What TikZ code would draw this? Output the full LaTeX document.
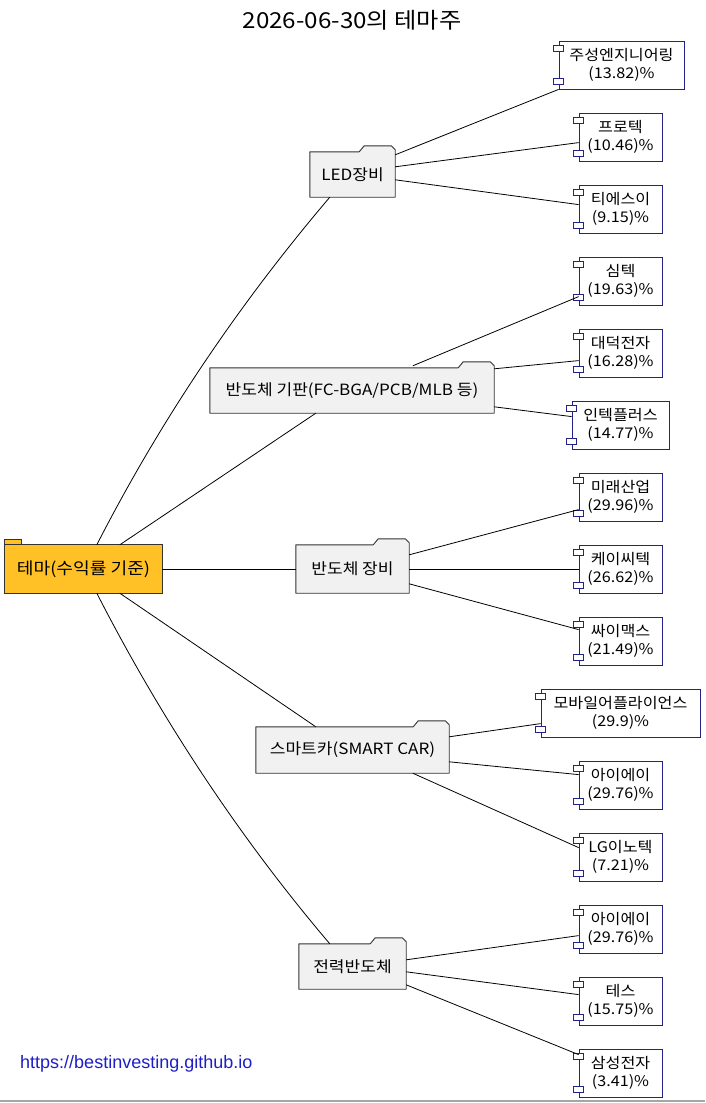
\documentclass[tikz,border=0pt]{standalone}
\usepackage{fontspec}
\setmainfont[FakeStretch=1.1]{Noto Sans CJK KR}
\newfontfamily\urlfont{Liberation Sans}
\usetikzlibrary{calc}
\pgfdeclarelayer{background}
\pgfsetlayers{background,main}
\definecolor{rootfill}{RGB}{255,193,37}
\definecolor{folderfill}{RGB}{241,241,241}
\definecolor{folderline}{RGB}{51,51,51}
\definecolor{compline}{RGB}{34,34,136}
\definecolor{urlblue}{RGB}{30,30,200}
\newcommand\folderpath[1]{%
  \draw[folderdraw]
  (#1.south west) -- (#1.north west) -- ($(#1.north east)+(-36,0)$) -- ++(5,-6)
  -- ($(#1.north east)+(-4,-6)$) -- ($(#1.north east)+(0,-2)$) -- (#1.south east) -- cycle;}
\newcommand\compports[1]{%
  \draw[portdraw] ($(#1.north west)+(-5,5)$) rectangle ++(10,6);
  \draw[portdraw] ($(#1.south west)+(-5,-11)$) rectangle ++(10,6);}
\begin{document}
\begin{tikzpicture}[x=1pt,y=-1pt,
  folderdraw/.style={draw=folderline, fill=folderfill, line width=0.9pt, line join=round},
  fold/.style={inner sep=0pt, font=\fontsize{15.5}{18}\selectfont},
  comp/.style={draw=compline, fill=white, line width=0.8pt, inner sep=0pt, minimum height=48,
    minimum width=83, align=center, font=\fontsize{14.7}{17.5}\selectfont},
  portdraw/.style={draw=compline, fill=white, line width=0.8pt},
  edge/.style={draw=black, line width=0.8pt}]
\useasboundingbox (0,0) rectangle (705,1103);
\draw[gray!70, line width=1.5pt] (0,1101) -- (705,1101);

\node[font=\fontsize{22}{25}\selectfont] (title) at (352,20) {2026-06-30의 테마주};

% root and folders
\node[fold, font=\fontsize{16.5}{19}\selectfont, minimum width=157, minimum height=48] (root) at (83.5,569) {테마(수익률 기준)};
\node[fold, minimum width=85, minimum height=45] (led) at (352.5,174.5) {LED장비};
\node[fold, minimum width=284, minimum height=45] (sub) at (352,390.5) {반도체 기판(FC-BGA/PCB/MLB 등)};
\node[fold, minimum width=113, minimum height=48] (equip) at (352.5,569) {반도체 장비};
\node[fold, minimum width=193, minimum height=46] (car) at (352.5,750) {스마트카(SMART CAR)};
\node[fold, minimum width=107, minimum height=45] (power) at (352.5,966.5) {전력반도체};

\begin{pgfonlayer}{background}
  \fill[white] (0,0) rectangle (705,1103);
  \draw[draw=folderline, fill=rootfill, line width=0.9pt] (root.north west) rectangle ++(17,-5);
  \draw[draw=folderline, fill=rootfill, line width=0.9pt] (root.south west) rectangle (root.north east);
  \folderpath{led}
  \folderpath{sub}
  \folderpath{equip}
  \folderpath{car}
  \folderpath{power}
\end{pgfonlayer}

% components
\node[comp, minimum width=125] (c1) at (621.5,65) {주성엔지니어링\\(13.82)\%};
\node[comp] (c2) at (620.5,137) {프로텍\\(10.46)\%};
\node[comp] (c3) at (620.5,209) {티에스이\\(9.15)\%};
\node[comp] (c4) at (620.5,281) {심텍\\(19.63)\%};
\node[comp] (c5) at (620.5,353) {대덕전자\\(16.28)\%};
\node[comp, minimum width=97] (c6) at (620.5,425) {인텍플러스\\(14.77)\%};
\node[comp] (c7) at (620.5,497) {미래산업\\(29.96)\%};
\node[comp] (c8) at (620.5,569) {케이씨텍\\(26.62)\%};
\node[comp] (c9) at (620.5,641) {싸이맥스\\(21.49)\%};
\node[comp, minimum width=159] (c10) at (620.5,713) {모바일어플라이언스\\(29.9)\%};
\node[comp] (c11) at (620.5,785) {아이에이\\(29.76)\%};
\node[comp] (c12) at (620.5,857) {LG이노텍\\(7.21)\%};
\node[comp] (c13) at (620.5,929) {아이에이\\(29.76)\%};
\node[comp] (c14) at (620.5,1001) {테스\\(15.75)\%};
\node[comp] (c15) at (620.5,1073) {삼성전자\\(3.41)\%};
\foreach \c in {c1,c2,c3,c4,c5,c6,c7,c8,c9,c10,c11,c12,c13,c14,c15} {\compports{\c}}

% root edges
\draw[edge] ($(root.north west)+(92,0)$) .. controls +(64,-125) and +(-91,107) .. ($(led.south west)+(20,0)$);
\draw[edge] ($(root.north west)+(115,0)$) -- ($(sub.south west)+(106,0)$);
\draw[edge] (root.east) -- (equip.west);
\draw[edge] ($(root.south west)+(115,0)$) -- ($(car.north west)+(60,0)$);
\draw[edge] ($(root.south west)+(92,0)$) .. controls +(64,125) and +(-91,-107) .. ($(power.north west)+(31,0)$);

% LED
\draw[edge] ($(led.north east)+(0,3)$) -- (c1.south west);
\draw[edge] ($(led.north east)+(0,15)$) -- ($(c2.north west)+(0,30)$);
\draw[edge] ($(led.north east)+(0,28)$) -- ($(c3.north west)+(0,20)$);
% substrate
\draw[edge] ($(sub.north west)+(203,-2)$) -- ($(c4.north west)+(0,40)$);
\draw[edge] ($(sub.north east)+(0,1)$) -- ($(c5.north west)+(0,32)$);
\draw[edge] ($(sub.north east)+(0,39)$) -- ($(c6.north west)+(0,16)$);
% equipment
\draw[edge] ($(equip.north east)+(0,10)$) -- ($(c7.north west)+(0,37)$);
\draw[edge] (equip.east) -- (c8.west);
\draw[edge] ($(equip.north east)+(0,39)$) -- ($(c9.north west)+(0,13)$);
% car
\draw[edge] ($(car.north east)+(0,10)$) -- ($(c10.north west)+(0,35)$);
\draw[edge] ($(car.north east)+(0,35)$) -- ($(c11.north west)+(0,14)$);
\draw[edge] ($(car.south west)+(157,0)$) -- ($(c12.north west)+(0,15)$);
% power
\draw[edge] ($(power.north east)+(0,16)$) -- ($(c13.north west)+(0,31)$);
\draw[edge] ($(power.north east)+(0,28)$) -- ($(c14.north west)+(0,18)$);
\draw[edge] ($(power.north east)+(0,41)$) -- ($(c15.north west)+(0,6)$);

\node[anchor=base west, text=urlblue, inner sep=0pt, font=\urlfont\fontsize{18}{21}\selectfont] (url) at (20,1068) {https://bestinvesting.github.io};
\end{tikzpicture}
\end{document}
